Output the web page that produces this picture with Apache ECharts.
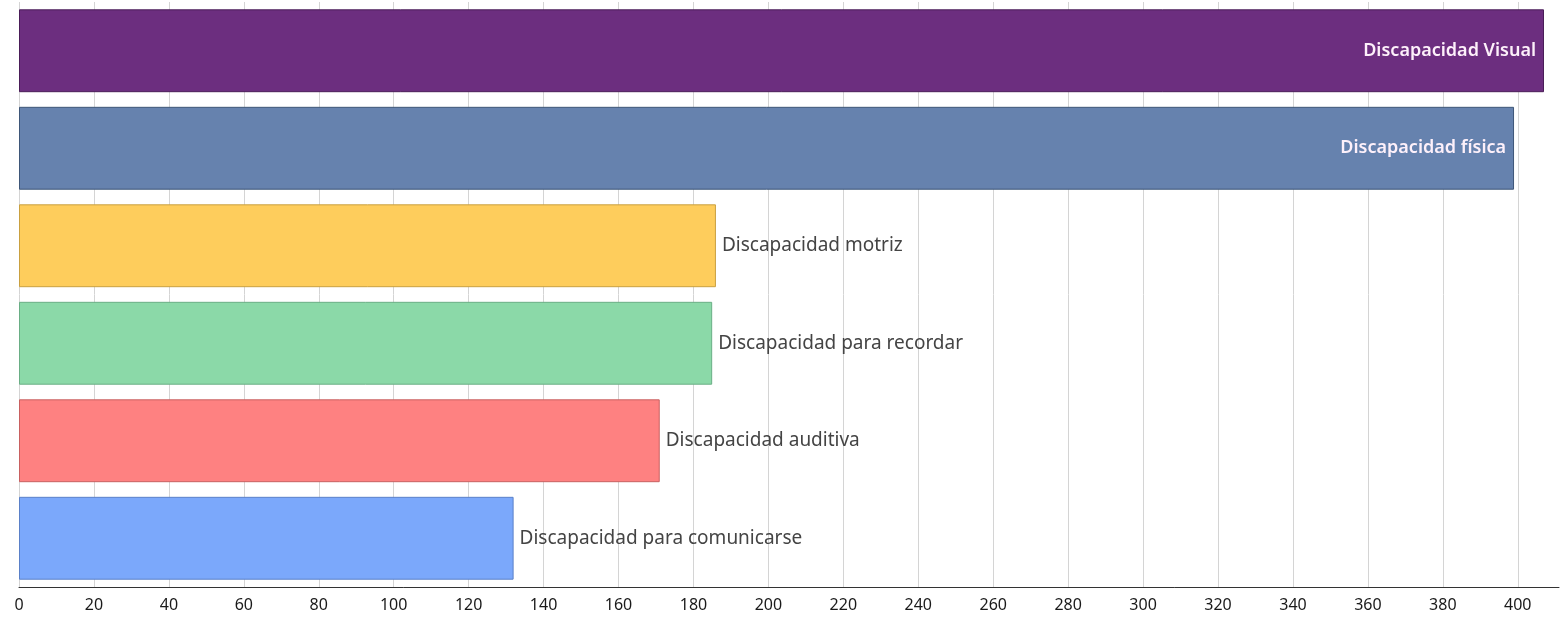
<!DOCTYPE html>
<html><head><meta charset="utf-8">
<script src="https://cdn.jsdelivr.net/npm/echarts@6/dist/echarts.min.js"></script>
<style>html,body{margin:0;padding:0;background:#fff}#c{width:1562px;height:620px}</style>
</head><body><div id="c"></div>
<script>
const categories = ["Discapacidad Visual","Discapacidad física","Discapacidad motriz","Discapacidad para recordar","Discapacidad auditiva","Discapacidad para comunicarse"];
const values = [407, 399, 186, 185, 171, 132];
const colors = ["#6c2e7f","#6682ae","#fecd5c","#8bd9a8","#fe8181","#7ba8fb"];
const borders = ["#4a1d58","#3e5678","#c9a040","#6aae85","#c86060","#5a80c8"];
const insideLabels = [true, true, false, false, false, false];

const chart = echarts.init(document.getElementById('c'));
chart.setOption({
  animation:false,
  grid:{left:19,right:3,top:2,bottom:33,containLabel:false},
  xAxis:{type:'value',min:0,max:411,interval:20,
    axisLine:{show:true,lineStyle:{color:'#333',width:1}},
    axisTick:{show:false},
    axisLabel:{color:'#1a1a1a',fontSize:16,fontFamily:'Noto Sans',margin:10,showMaxLabel:false},
    splitLine:{show:true,showMaxLine:false,lineStyle:{color:'#d4d4d4',width:1}}},
  yAxis:{type:'category',data:categories,inverse:true,
    axisLine:{show:false},axisTick:{show:false},axisLabel:{show:false}},
  series:[{type:'bar',barCategoryGap:'15%',
    data:values.map((v,i)=>({value:v,
      itemStyle:{color:colors[i],borderColor:borders[i],borderWidth:1},
      label:insideLabels[i]
        ? {show:true,position:'insideRight',color:'#fdf0fa',fontWeight:600,fontSize:18,distance:8}
        : {show:true,position:'right',color:'#444',fontSize:19,distance:6}
    })),
    label:{show:true,formatter:p=>categories[p.dataIndex],fontFamily:'Noto Sans'}
  }]
});
</script></body></html>
